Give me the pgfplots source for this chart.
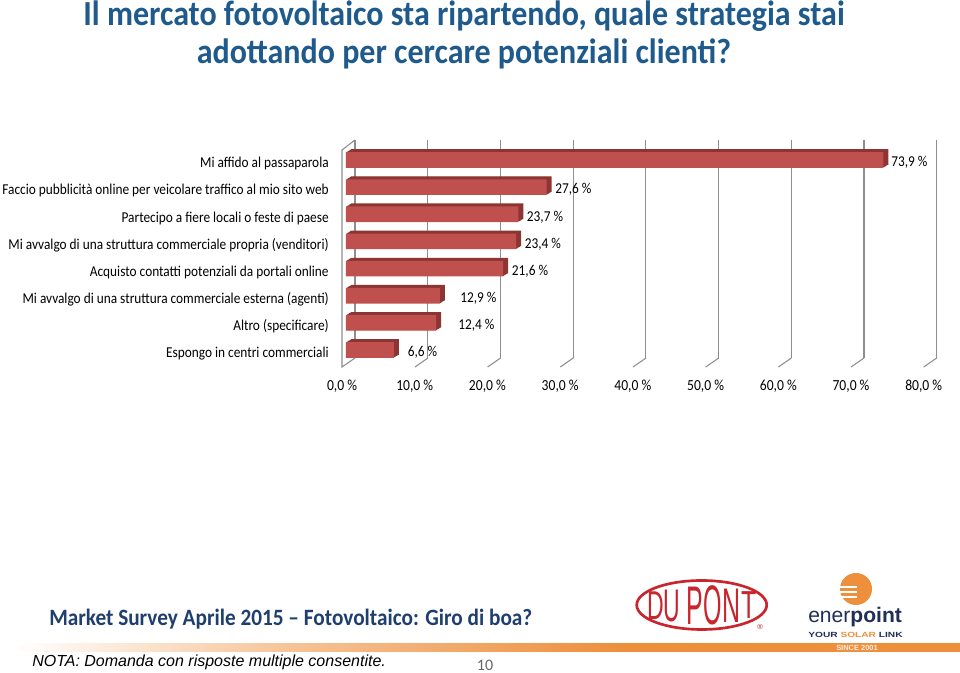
\documentclass[border=0pt]{standalone}
\usepackage{pgfplots}
\usepackage{pgfplotstable}
\pgfplotsset{compat=1.18}
\usepackage{fontspec}
\setmainfont{Carlito}
\newfontfamily\arial{Liberation Sans}
\definecolor{titleblue}{HTML}{1F5A8C}
\definecolor{footblue}{HTML}{1F3F6E}
\definecolor{barfront}{HTML}{C0504D}
\definecolor{bardark}{HTML}{8C3533}
\definecolor{wallgray}{HTML}{8E8E8E}
\definecolor{band}{HTML}{EE8F3C}
\definecolor{dupont}{HTML}{C9252C}
\definecolor{enernavy}{HTML}{1F2F57}
\pgfdeclarehorizontalshading{bandfade}{100bp}{color(0bp)=(white); color(25bp)=(white); color(40bp)=(band!55); color(57bp)=(band); color(100bp)=(band)}

% rank from the bottom, share in percent
\pgfplotstableread{
val rank
6.6 0
12.4 1
12.9 2
21.6 3
23.4 4
23.7 5
27.6 6
73.9 7
}\answers

\begin{document}
\begin{tikzpicture}[x=0.75pt,y=0.75pt]
\path[use as bounding box,fill=white] (0,0) rectangle (960,673);

% title
\node[font=\fontsize{24}{28}\selectfont\bfseries,text=titleblue,anchor=center,yscale=1.1] at (464,673-16.5) {Il mercato fotovoltaico sta ripartendo, quale strategia stai};
\node[font=\fontsize{24}{28}\selectfont\bfseries,text=titleblue,anchor=center,yscale=1.1] at (464,673-53.5) {adottando per cercare potenziali clienti?};

% side wall and floor of the 3D box
\draw[wallgray,line width=0.8pt] (355,673-140) -- (342,673-150) -- (342,673-367) -- (355,673-358);
\foreach \gx in {428,500.6,573.3,646,718.7,791.4,864,936.7}
  \draw[wallgray,line width=0.8pt] (\gx,673-358) -- (\gx-13,673-367);

\begin{axis}[
    at={(266.25pt,236.25pt)},
    anchor=south west,
    scale only axis,
    width=436.3pt,
    height=163.5pt,
    xmin=0, xmax=80,
    ymin=-0.295, ymax=7.738,
    clip=false,
    axis line style={draw=none},
    xmajorgrids,
    grid style={wallgray,line width=0.8pt},
    major tick length=0pt,
    xtick={0,10,20,30,40,50,60,70,80},
    xticklabels={{0,0 \%},{10,0 \%},{20,0 \%},{30,0 \%},{40,0 \%},{50,0 \%},{60,0 \%},{70,0 \%},{80,0 \%}},
    x tick label style={font=\fontsize{10.2}{12}\selectfont,yscale=1.13,xshift=-9.75pt,yshift=-13.5pt,inner sep=0pt,text height=8pt,text depth=2pt},
    ytick={0,1,2,3,4,5,6,7},
    yticklabels={Espongo in centri commerciali,Altro (specificare),Mi avvalgo di una struttura commerciale esterna (agenti),Acquisto contatti potenziali da portali online,Mi avvalgo di una struttura commerciale propria (venditori),Partecipo a fiere locali o feste di paese,Faccio pubblicità online per veicolare traffico al mio sito web,Mi affido al passaparola},
    y tick label style={font=\fontsize{10}{12}\selectfont,yscale=1.13,anchor=east,xshift=-19.5pt,yshift=-2.2pt,inner sep=0pt,text height=8pt,text depth=2pt},
]
\pgfplotsinvokeforeach{5,4,3,2,1}{
  \addplot[xbar,bar shift=0pt,bar width=11.7pt,draw=none,fill=bardark,
    xshift=-6.75pt+#1*0.75pt,yshift=#1*0.45pt] table[x=val,y=rank] {\answers};
}
\addplot[xbar,bar shift=0pt,bar width=11.7pt,draw=none,fill=barfront,
    xshift=-6.75pt] table[x=val,y=rank] {\answers};
\end{axis}

% value labels
\begin{scope}[every node/.style={font=\fontsize{10}{12}\selectfont,yscale=1.13,anchor=west,inner sep=0pt,text height=8pt,text depth=2pt}]
\node at (891,673-162) {73,9 \%};
\node at (555,673-189) {27,6 \%};
\node at (526.7,673-216.5) {23,7 \%};
\node at (524.5,673-244) {23,4 \%};
\node at (511.7,673-271) {21,6 \%};
\node at (460,673-298) {12,9 \%};
\node at (458,673-325) {12,4 \%};
\node at (407.5,673-352) {6,6 \%};
\end{scope}

% footer
\node[font=\fontsize{15.95}{18}\selectfont\bfseries,text=footblue,anchor=west,inner sep=0pt,yscale=1.1] at (49,673-619) {Market Survey Aprile 2015 – Fotovoltaico: Giro di boa?};
\shade[shading=bandfade] (15,673-652) rectangle (960,673-644);
\node[font=\arial\itshape\fontsize{12}{14}\selectfont,anchor=west,inner sep=0pt] at (32,673-662.5) {NOTA: Domanda con risposte multiple consentite.};
\node[font=\fontsize{12}{14}\selectfont,text=gray!80!black,inner sep=0pt] at (485,673-665) {10};

% DuPont logo, letters taller towards the middle of the oval
\draw[dupont,line width=2pt] (701.7,673-605) ellipse (65 and 24.5);
\foreach \lt/\lx/\sx/\sy in {D/656/0.72/1.26,U/672/0.72/1.43,P/695/0.78/1.7,O/713/0.74/1.74,N/732/0.78/1.52,T/749/0.78/1.22}
  \node[font=\arial\fontsize{24}{26}\selectfont,text=dupont,xscale=\sx,yscale=\sy,inner sep=0pt] at (\lx,673-605.5) {\lt};
\node[font=\arial\fontsize{5.5}{6}\selectfont,text=dupont,inner sep=0pt] at (760,673-627) {®};

% enerpoint logo
\fill[band] (856,673-589) circle (16);
\fill[white] (836,673-588) rectangle (857,673-586);
\fill[white] (836,673-593) rectangle (857,673-591);
\fill[white] (836,673-598) rectangle (857,673-596);
\node[font=\arial\fontsize{15.8}{19}\selectfont,text=enernavy,anchor=west,inner sep=0pt] at (808,673-617) {ener\textbf{point}};
\node[font=\arial\bfseries\fontsize{5.6}{7}\selectfont,text=enernavy,anchor=west,inner sep=0pt,xscale=1.36] at (808,673-635) {YOUR \textcolor{band}{SOLAR} LINK};
\node[font=\arial\bfseries\fontsize{5.6}{7}\selectfont,text=white!85!band,anchor=center,inner sep=0pt] at (857,673-648) {SINCE 2001};
\end{tikzpicture}
\end{document}
